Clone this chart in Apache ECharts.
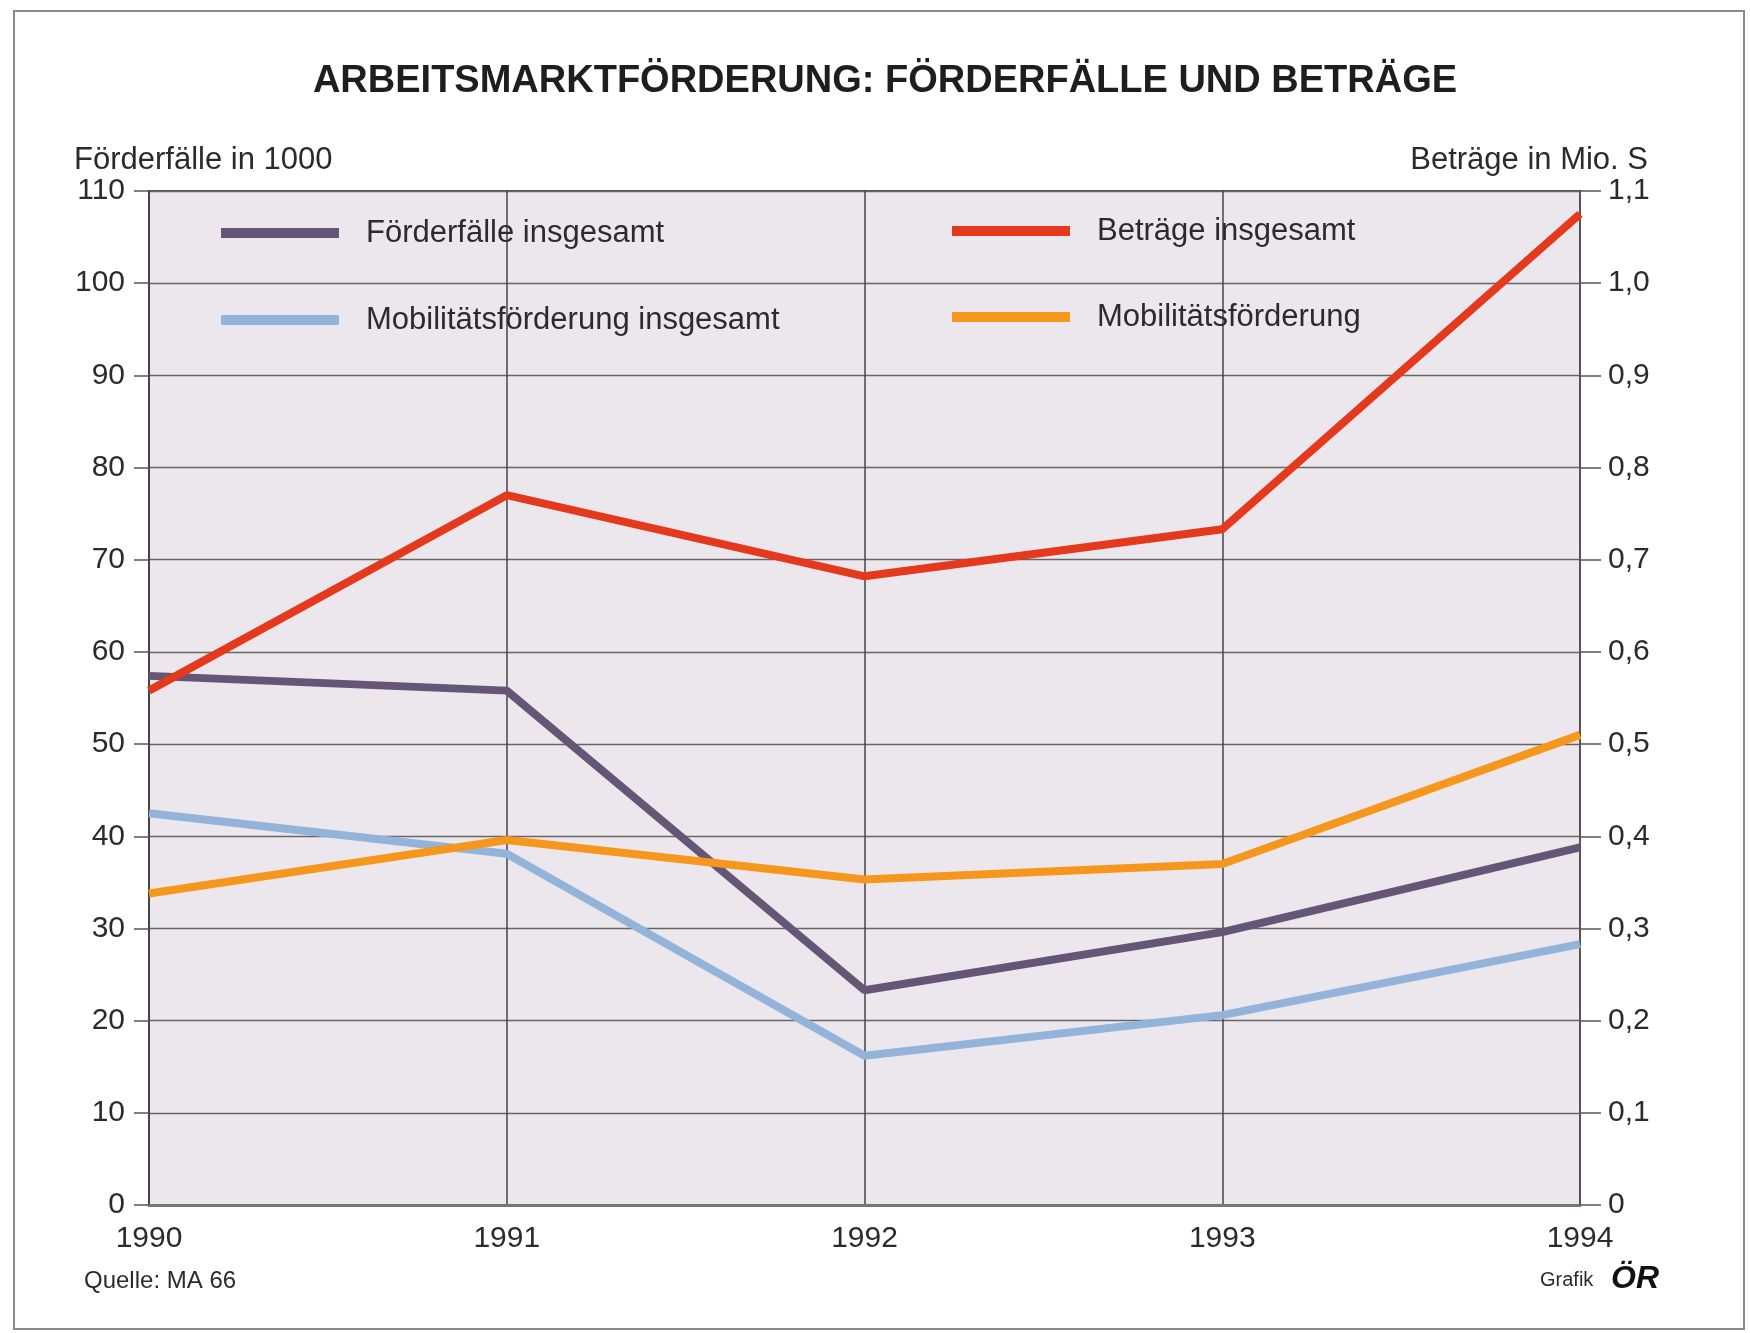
<!DOCTYPE html>
<html>
<head>
<meta charset="utf-8">
<script src="https://cdn.jsdelivr.net/npm/echarts@6/dist/echarts.min.js"></script>
<style>
html,body{margin:0;padding:0;background:#fff;}
#chart{width:1750px;height:1333px;}
</style>
</head>
<body>
<div id="chart"></div>
<script>
const years = ['1990', '1991', '1992', '1993', '1994'];
const foerderfaelleInsgesamt = [57.4, 55.8, 23.3, 29.6, 38.8];
const mobilitaetsfoerderungInsgesamt = [42.5, 38.1, 16.2, 20.6, 28.3];
const betraegeInsgesamt = [0.558, 0.770, 0.682, 0.733, 1.075];
const mobilitaetsfoerderungBetraege = [0.338, 0.396, 0.353, 0.370, 0.510];
const leftTicks = ['0', '10', '20', '30', '40', '50', '60', '70', '80', '90', '100', '110'];
const rightTicks = ['0', '0,1', '0,2', '0,3', '0,4', '0,5', '0,6', '0,7', '0,8', '0,9', '1,0', '1,1'];

const FONT = '"Liberation Sans", Arial, Helvetica, sans-serif';
const TXT = '#2b2b2b';
const C_PURPLE = '#655677';
const C_BLUE = '#93b3d9';
const C_RED = '#e4391d';
const C_ORANGE = '#f5971c';

const chart = echarts.init(document.getElementById('chart'));

function legendAt(name, left, centerY) {
  return {
    data: [name],
    left: left,
    top: centerY - 17,
    orient: 'vertical',
    icon: 'rect',
    itemWidth: 118,
    itemHeight: 10,
    itemGap: 0,
    padding: 0,
    selectedMode: false,
    textStyle: { fontFamily: FONT, fontSize: 31, color: TXT, lineHeight: 34, padding: [0, 0, 0, 22] }
  };
}

const option = {
  backgroundColor: '#ffffff',
  animation: false,
  title: {
    text: 'ARBEITSMARKTFÖRDERUNG: FÖRDERFÄLLE UND BETRÄGE',
    left: 880,
    textAlign: 'center',
    top: 58,
    textStyle: { fontFamily: FONT, fontSize: 38, fontWeight: 'bold', color: '#1e1e1e' }
  },
  legend: [
    legendAt('Förderfälle insgesamt', 221, 233),
    legendAt('Mobilitätsförderung insgesamt', 221, 320),
    legendAt('Beträge insgesamt', 952, 231),
    legendAt('Mobilitätsförderung', 952, 317)
  ],
  grid: {
    left: 149, right: 170, top: 191, bottom: 128,
    show: true,
    backgroundColor: '#ece7ed',
    borderColor: '#555',
    borderWidth: 2
  },
  xAxis: {
    type: 'category',
    data: years,
    boundaryGap: false,
    axisLine: { show: true, lineStyle: { color: '#777', width: 3 } },
    axisTick: { show: false },
    axisLabel: { fontFamily: FONT, fontSize: 30, color: TXT, margin: 19 },
    splitLine: { show: true, lineStyle: { color: '#444', width: 1.5 } }
  },
  yAxis: [
    {
      type: 'value',
      min: 0, max: 110, interval: 10,
      name: 'Förderfälle in 1000',
      nameLocation: 'end',
      nameGap: 13,
      nameTextStyle: { fontFamily: FONT, fontSize: 31, color: TXT, align: 'left', padding: [0, 0, 0, -75] },
      axisLine: { show: true, lineStyle: { color: '#444', width: 2 } },
      axisTick: { show: true, length: 15, lineStyle: { color: '#555', width: 1.5 } },
      axisLabel: { fontFamily: FONT, fontSize: 30, color: TXT, margin: 24,
        formatter: (v, i) => leftTicks[Math.round(v / 10)] },
      splitLine: { show: true, lineStyle: { color: '#666', width: 1.3 } }
    },
    {
      type: 'value',
      min: 0, max: 1.1, interval: 0.1,
      name: 'Beträge in Mio. S',
      nameLocation: 'end',
      nameGap: 13,
      nameTextStyle: { fontFamily: FONT, fontSize: 31, color: TXT, align: 'right', padding: [0, -68, 0, 0] },
      position: 'right',
      axisLine: { show: true, lineStyle: { color: '#555', width: 2 } },
      axisTick: { show: true, length: 21, lineStyle: { color: '#555', width: 1.5 } },
      axisLabel: { fontFamily: FONT, fontSize: 30, color: TXT, margin: 28,
        formatter: (v, i) => rightTicks[Math.round(v * 10)] },
      splitLine: { show: false }
    }
  ],
  series: [
    { name: 'Förderfälle insgesamt', type: 'line', yAxisIndex: 0, data: foerderfaelleInsgesamt,
      symbol: 'none', color: C_PURPLE, lineStyle: { width: 8, color: C_PURPLE } },
    { name: 'Mobilitätsförderung insgesamt', type: 'line', yAxisIndex: 0, data: mobilitaetsfoerderungInsgesamt,
      symbol: 'none', color: C_BLUE, lineStyle: { width: 8, color: C_BLUE } },
    { name: 'Beträge insgesamt', type: 'line', yAxisIndex: 1, data: betraegeInsgesamt,
      symbol: 'none', color: C_RED, lineStyle: { width: 8, color: C_RED } },
    { name: 'Mobilitätsförderung', type: 'line', yAxisIndex: 1, data: mobilitaetsfoerderungBetraege,
      symbol: 'none', color: C_ORANGE, lineStyle: { width: 8, color: C_ORANGE } }
  ],
  graphic: [
    { type: 'rect', shape: { x: 14, y: 11, width: 1730, height: 1318 }, z: -10, silent: true,
      style: { fill: 'none', stroke: '#8a8a8a', lineWidth: 2 } },
    { type: 'text', left: 84, top: 1269, silent: true,
      style: { text: 'Quelle: MA 66', fontFamily: FONT, fontSize: 24, fill: TXT } },
    { type: 'text', left: 1540, top: 1270, silent: true,
      style: { text: 'Grafik', fontFamily: FONT, fontSize: 20, fill: TXT } },
    { type: 'text', left: 1611, top: 1263, silent: true,
      style: { text: 'ÖR', fontFamily: FONT, fontSize: 32, fontWeight: 'bold', fontStyle: 'italic', fill: '#111' } }
  ]
};

chart.setOption(option);
</script>
</body>
</html>
